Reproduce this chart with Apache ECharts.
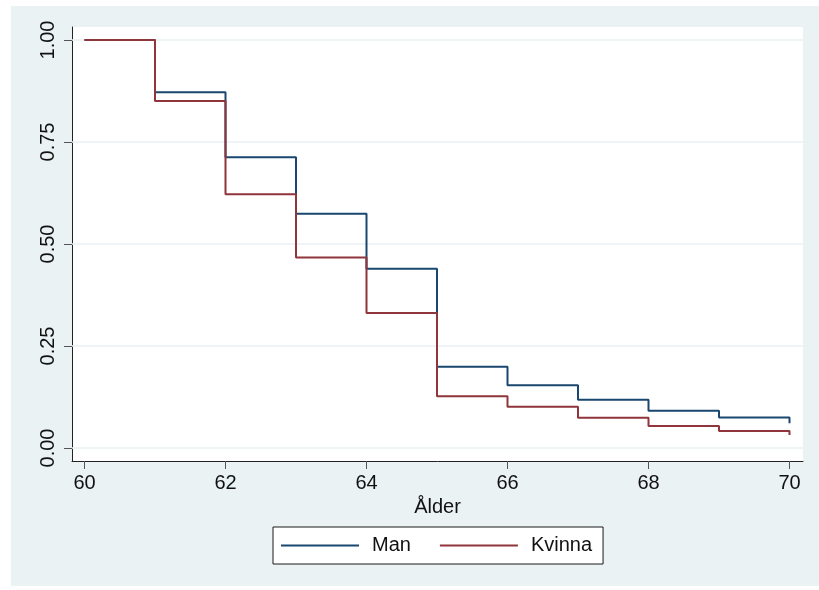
<!DOCTYPE html>
<html>
<head>
<meta charset="utf-8">
<script src="https://cdn.jsdelivr.net/npm/echarts@6/dist/echarts.min.js"></script>
<style>
html,body{margin:0;padding:0;background:#fff;}
#c{width:819px;height:590px;}
</style>
</head>
<body>
<div id="c"></div>
<script>
// ---- data ----
const ages = [60, 61, 62, 63, 64, 65, 66, 67, 68, 69, 70];
const man = [1.00, 0.872, 0.7125, 0.574, 0.4395, 0.199, 0.154, 0.118, 0.091, 0.075, 0.0605];
const kvinna = [1.00, 0.8505, 0.622, 0.467, 0.331, 0.1266, 0.101, 0.0743, 0.054, 0.0417, 0.032];
const xTicks = [60, 62, 64, 66, 68, 70];
const yTicks = [0, 0.25, 0.5, 0.75, 1];
const seriesNames = ['Man', 'Kvinna'];
const xTitle = 'Ålder';

const FONT = "'Liberation Sans', Arial, sans-serif";
const chart = echarts.init(document.getElementById('c'), null, {renderer: 'canvas'});

const pairs = (xs, ys) => xs.map((x, i) => [x, ys[i]]);

chart.setOption({
  animation: false,
  backgroundColor: '#ffffff',
  graphic: [{
    type: 'rect', z: -10, silent: true,
    shape: {x: 11, y: 6, width: 808, height: 580},
    style: {fill: '#EAF2F3'}
  }],
  grid: {
    left: 72, right: 16, top: 27, bottom: 129,
    show: true, backgroundColor: '#ffffff', borderWidth: 0
  },
  legend: {
    data: seriesNames.map(n => ({name: n, icon: 'rect'})),
    left: 273, top: 527,
    orient: 'horizontal',
    backgroundColor: '#ffffff',
    borderColor: '#1a1a1a', borderWidth: 1,
    padding: [8, 11, 8, 8],
    itemWidth: 78, itemHeight: 2, itemGap: 29,
    textStyle: {fontFamily: FONT, fontSize: 20, color: '#111', padding: [0, 0, 0, 8], lineHeight: 21}
  },
  xAxis: {
    type: 'value',
    min: 60 - 12.5 / 70.5, max: 70 + 13.5 / 70.5,
    name: xTitle, nameLocation: 'middle', nameGap: 32,
    nameTextStyle: {fontFamily: FONT, fontSize: 20, color: '#111'},
    axisLine: {show: true, onZero: false, lineStyle: {color: '#222', width: 1}},
    axisTick: {show: true, customValues: xTicks, length: 8, lineStyle: {color: '#555', width: 1}},
    axisLabel: {customValues: xTicks, fontFamily: FONT, fontSize: 20, color: '#111', margin: 12},
    splitLine: {show: false}
  },
  yAxis: {
    type: 'value',
    min: -13 / 408, max: 1 + 13 / 408,
    axisLine: {show: true, onZero: false, lineStyle: {color: '#222', width: 1}},
    axisTick: {show: true, customValues: yTicks, length: 8, lineStyle: {color: '#555', width: 1}},
    axisLabel: {
      customValues: yTicks, rotate: 90, fontFamily: FONT, fontSize: 20, color: '#111', margin: 14,
      formatter: v => v.toFixed(2)
    },
    splitLine: {show: false}
  },
  series: [
    {
      name: '__grid', type: 'line', data: [], z: 1, silent: true,
      markLine: {
        silent: true, symbol: 'none', label: {show: false}, z: 1,
        lineStyle: {color: '#EAF2F3', width: 1.5, type: 'solid'},
        data: yTicks.map(v => ({yAxis: v}))
      }
    },
    {
      name: seriesNames[0], type: 'line', step: 'end', z: 3,
      data: pairs(ages, man), symbol: 'none', showSymbol: false,
      lineStyle: {color: '#1a476f', width: 2}, itemStyle: {color: '#1a476f'}
    },
    {
      name: seriesNames[1], type: 'line', step: 'end', z: 4,
      data: pairs(ages, kvinna), symbol: 'none', showSymbol: false,
      lineStyle: {color: '#90353b', width: 2}, itemStyle: {color: '#90353b'}
    }
  ]
});
</script>
</body>
</html>
